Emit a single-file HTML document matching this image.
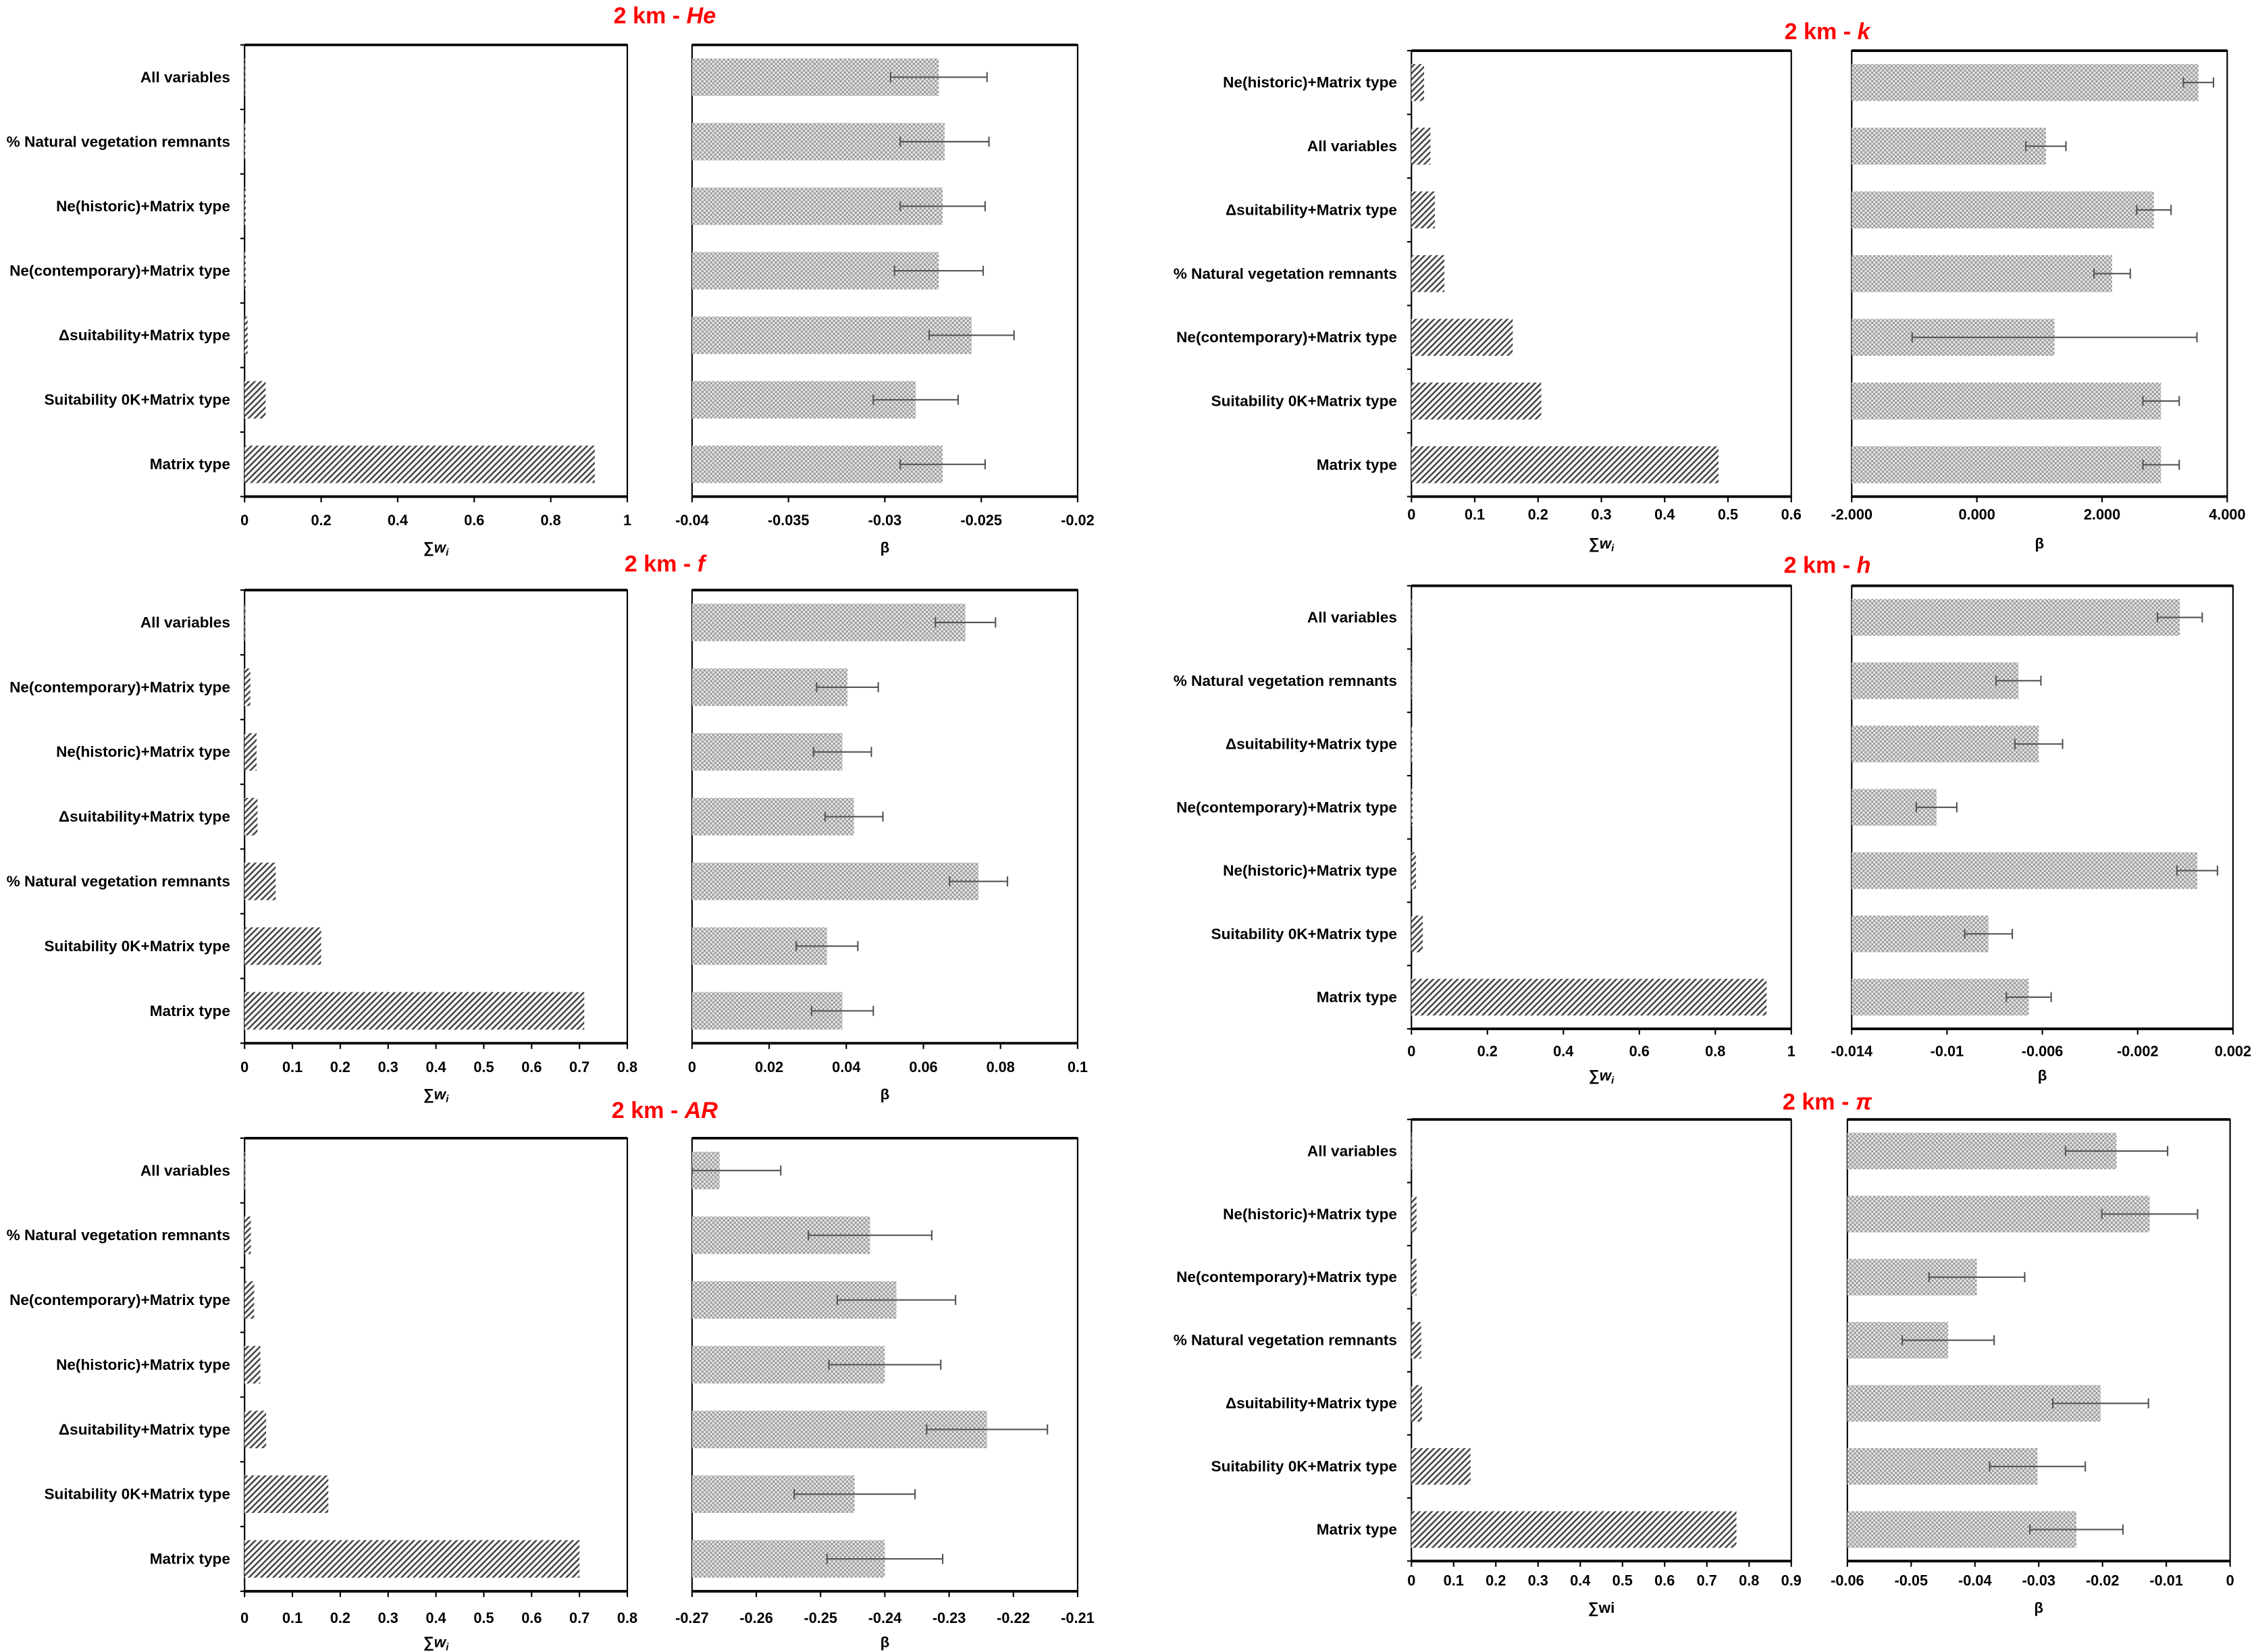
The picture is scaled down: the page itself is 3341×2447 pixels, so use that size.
<!DOCTYPE html>
<html><head><meta charset="utf-8"><style>
html,body{margin:0;padding:0;background:#fff}
svg{display:block}
text{font-family:"Liberation Sans",sans-serif}
</style></head><body>
<svg id="fig" width="3341" height="2447" viewBox="0 0 1568 1148" xmlns="http://www.w3.org/2000/svg">
<defs>
<pattern id="hatch" width="3" height="3" patternUnits="userSpaceOnUse" patternTransform="rotate(45)">
<rect width="3" height="3" fill="#fff"/><rect width="1.2" height="3" fill="#444"/></pattern>
<pattern id="check" width="3" height="3" patternUnits="userSpaceOnUse">
<rect width="3" height="3" fill="#e8e8e8"/><rect width="1.5" height="1.5" fill="#9a9a9a"/><rect x="1.5" y="1.5" width="1.5" height="1.5" fill="#9a9a9a"/></pattern>
</defs>
<g id="root"></g>
</svg>
<script>
// ---------- data ----------
const heCats = ["All variables","% Natural vegetation remnants","Ne(historic)+Matrix type","Ne(contemporary)+Matrix type","Δsuitability+Matrix type","Suitability 0K+Matrix type","Matrix type"];
const heW = [0.001,0.002,0.003,0.003,0.008,0.055,0.915];
const heB = [-0.0272,-0.0269,-0.0270,-0.0272,-0.0255,-0.0284,-0.0270];
const heE = [0.0025,0.0023,0.0022,0.0023,0.0022,0.0022,0.0022];
const heWTicks = [0,0.2,0.4,0.6,0.8,1];
const heBTicks = [-0.04,-0.035,-0.03,-0.025,-0.02];

const fCats = ["All variables","Ne(contemporary)+Matrix type","Ne(historic)+Matrix type","Δsuitability+Matrix type","% Natural vegetation remnants","Suitability 0K+Matrix type","Matrix type"];
const fW = [0.001,0.012,0.025,0.027,0.065,0.16,0.71];
const fB = [0.0709,0.0403,0.039,0.042,0.0743,0.035,0.039];
const fE = [0.0078,0.008,0.0075,0.0075,0.0075,0.008,0.008];
const fWTicks = [0,0.1,0.2,0.3,0.4,0.5,0.6,0.7,0.8];
const fBTicks = [0,0.02,0.04,0.06,0.08,0.1];

const arCats = ["All variables","% Natural vegetation remnants","Ne(contemporary)+Matrix type","Ne(historic)+Matrix type","Δsuitability+Matrix type","Suitability 0K+Matrix type","Matrix type"];
const arW = [0.001,0.013,0.02,0.033,0.045,0.175,0.70];
const arB = [-0.2657,-0.2423,-0.2382,-0.2400,-0.2241,-0.2447,-0.2400];
const arE = [0.0095,0.0096,0.0092,0.0087,0.0094,0.0094,0.009];
const arWTicks = [0,0.1,0.2,0.3,0.4,0.5,0.6,0.7,0.8];
const arBTicks = [-0.27,-0.26,-0.25,-0.24,-0.23,-0.22,-0.21];

const kCats = ["Ne(historic)+Matrix type","All variables","Δsuitability+Matrix type","% Natural vegetation remnants","Ne(contemporary)+Matrix type","Suitability 0K+Matrix type","Matrix type"];
const kW = [0.02,0.03,0.037,0.052,0.16,0.205,0.485];
const kB = [3540,1103,2828,2161,1241,2943,2943];
const kE = [240,320,275,290,2275,290,290];
const kWTicks = [0,0.1,0.2,0.3,0.4,0.5,0.6];
const kBTicks = [-2000,0,2000,4000];
const kBTickLabels = ["-2.000","0.000","2.000","4.000"];

const hCats = ["All variables","% Natural vegetation remnants","Δsuitability+Matrix type","Ne(contemporary)+Matrix type","Ne(historic)+Matrix type","Suitability 0K+Matrix type","Matrix type"];
const hW = [0.001,0.001,0.002,0.003,0.012,0.03,0.935];
const hB = [-0.00023,-0.0070,-0.00615,-0.01044,0.0005,-0.00826,-0.00657];
const hE = [0.00094,0.00094,0.001,0.00085,0.00085,0.001,0.00094];
const hWTicks = [0,0.2,0.4,0.6,0.8,1];
const hBTicks = [-0.014,-0.01,-0.006,-0.002,0.002];

const piCats = ["All variables","Ne(historic)+Matrix type","Ne(contemporary)+Matrix type","% Natural vegetation remnants","Δsuitability+Matrix type","Suitability 0K+Matrix type","Matrix type"];
const piW = [0.001,0.012,0.012,0.023,0.025,0.14,0.77];
const piB = [-0.0178,-0.0126,-0.0397,-0.0442,-0.0203,-0.0302,-0.0241];
const piE = [0.008,0.0075,0.0075,0.0072,0.0075,0.0075,0.0073];
const piWTicks = [0,0.1,0.2,0.3,0.4,0.5,0.6,0.7,0.8,0.9];
const piBTicks = [-0.06,-0.05,-0.04,-0.03,-0.02,-0.01,0];

// ---------- drawing ----------
const NS="http://www.w3.org/2000/svg";
const root=document.getElementById('root');
function mk(tag,attrs,parent){const e=document.createElementNS(NS,tag);for(const k in attrs)e.setAttribute(k,attrs[k]);(parent||root).appendChild(e);return e;}

const panels=[
 {id:'he',head:'He',cats:heCats,w:heW,b:heB,e:heE,wt:heWTicks,bt:heBTicks,bl:null,wx0:170,wx1:436,bx0:481,bx1:749,top:31,bot:345,tickY:361,axY:380,headY:10,headX:462,lx:160,wi:true},
 {id:'f',head:'f',cats:fCats,w:fW,b:fB,e:fE,wt:fWTicks,bt:fBTicks,bl:null,wx0:170,wx1:436,bx0:481,bx1:749,top:410,bot:725,tickY:741,axY:760,headY:391,headX:462,lx:160,wi:true},
 {id:'ar',head:'AR',cats:arCats,w:arW,b:arB,e:arE,wt:arWTicks,bt:arBTicks,bl:null,wx0:170,wx1:436,bx0:481,bx1:749,top:791,bot:1106,tickY:1124,axY:1141,headY:771,headX:462,lx:160,wi:true},
 {id:'k',head:'k',cats:kCats,w:kW,b:kB,e:kE,wt:kWTicks,bt:kBTicks,bl:kBTickLabels,wx0:981,wx1:1245,bx0:1287,bx1:1548,top:35,bot:345,tickY:357,axY:377,headY:21,headX:1270,lx:971,wi:true},
 {id:'h',head:'h',cats:hCats,w:hW,b:hB,e:hE,wt:hWTicks,bt:hBTicks,bl:null,wx0:981,wx1:1245,bx0:1287,bx1:1552,top:407,bot:715,tickY:730,axY:747,headY:392,headX:1270,lx:971,wi:true},
 {id:'pi',head:'π',cats:piCats,w:piW,b:piB,e:piE,wt:piWTicks,bt:piBTicks,bl:null,wx0:981,wx1:1245,bx0:1284,bx1:1550,top:778,bot:1085,tickY:1098,axY:1117,headY:765,headX:1270,lx:971,wi:false}
];

function lin(d0,d1,r0,r1){return v=>r0+(v-d0)/(d1-d0)*(r1-r0);}

panels.forEach(p=>{
 const g=mk('g',{});
 
 
 const t=mk('text',{x:p.headX,y:p.headY+6,'text-anchor':'middle','font-size':16,'font-weight':'bold',fill:'#ff0000'},g);
 
 
 t.textContent='2 km - ';
 const ts=mk('tspan',{'font-style':'italic'},t); ts.textContent=p.head;
 const n=p.cats.length, band=(p.bot-p.top)/n, bh=band*0.58;
 const yc=i=>p.top+band*(i+0.5);
 const xw=lin(p.wt[0],p.wt[p.wt.length-1],p.wx0,p.wx1);
 const xb=lin(p.bt[0],p.bt[p.bt.length-1],p.bx0,p.bx1);
 [[p.wx0,p.wx1,'weights'],[p.bx0,p.bx1,'beta']].forEach(([a,b,nm])=>{
  const fr=mk('rect',{x:a,y:p.top,width:b-a,height:p.bot-p.top,fill:'none',stroke:'#000','stroke-width':1},g);
  
  
  mk('line',{x1:a,x2:b,y1:p.top,y2:p.top,stroke:'#000','stroke-width':1.8},g);
  mk('line',{x1:a,x2:b,y1:p.bot,y2:p.bot,stroke:'#000','stroke-width':1.8},g);
 });
 for(let i=0;i<=n;i++){const y=p.top+band*i;mk('line',{x1:p.wx0-3,x2:p.wx0,y1:y,y2:y,stroke:'#000','stroke-width':1},g);}
 p.cats.forEach((c,i)=>{
  const lb=mk('text',{x:p.lx,y:yc(i)+3.5,'text-anchor':'end','font-size':10.6,'font-weight':'bold',fill:'#000'},g);
  
  
  lb.textContent=c;
  const r=mk('rect',{x:p.wx0,y:yc(i)-bh/2,width:Math.max(0,xw(p.w[i])-p.wx0),height:bh,fill:'url(#hatch)'},g);
  
  
  const x0=xb(p.bt[0]), xe=xb(p.b[i]);
  const rb=mk('rect',{x:x0,y:yc(i)-bh/2,width:Math.max(0,xe-x0),height:bh,fill:'url(#check)'},g);
  
  
  const el=Math.max(x0,xb(p.b[i]-p.e[i])), er=xb(p.b[i]+p.e[i]);
  const eb=mk('g',{stroke:'#555','stroke-width':1},g);
  
  
  mk('line',{x1:el,x2:er,y1:yc(i),y2:yc(i)},eb);
  mk('line',{x1:el,x2:el,y1:yc(i)-3.5,y2:yc(i)+3.5},eb);
  mk('line',{x1:er,x2:er,y1:yc(i)-3.5,y2:yc(i)+3.5},eb);
 });
 p.wt.forEach(v=>{
  const x=xw(v);
  mk('line',{x1:x,x2:x,y1:p.bot,y2:p.bot+4,stroke:'#000','stroke-width':1},g);
  const tl=mk('text',{x:x,y:p.tickY+4,'text-anchor':'middle','font-size':10.2,'font-weight':'bold'},g);
  
  
  tl.textContent=String(v);
 });
 p.bt.forEach((v,j)=>{
  const x=xb(v);
  mk('line',{x1:x,x2:x,y1:p.bot,y2:p.bot+4,stroke:'#000','stroke-width':1},g);
  const tl=mk('text',{x:x,y:p.tickY+4,'text-anchor':'middle','font-size':10.2,'font-weight':'bold'},g);
  
  
  tl.textContent=p.bl?p.bl[j]:String(v);
 });
 const at=mk('text',{x:(p.wx0+p.wx1)/2,y:p.axY+4,'text-anchor':'middle','font-size':10.5,'font-weight':'bold'},g);
 
 
 if(p.wi){at.textContent='∑';const w=mk('tspan',{'font-style':'italic'},at);w.textContent='w';const s=mk('tspan',{'font-style':'italic','font-size':7,dy:2},at);s.textContent='i';}
 else at.textContent='∑wi';
 const bt=mk('text',{x:(p.bx0+p.bx1)/2,y:p.axY+4,'text-anchor':'middle','font-size':10.5,'font-weight':'bold'},g);
 
 
 bt.textContent='β';
});
</script>
</body></html>
